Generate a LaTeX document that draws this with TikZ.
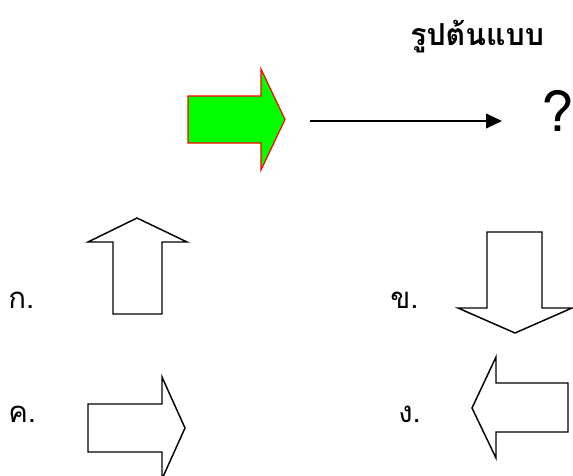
\documentclass[tikz,border=0pt]{standalone}
\usepackage{fontspec}
\newfontfamily\thaifont[Script=Thai]{Loma}
\usetikzlibrary{arrows.meta}

\begin{document}
\begin{tikzpicture}[x=0.75pt, y=-0.75pt,
  blk/.style={draw=black, line width=1.1pt, fill=white, line join=miter},
  model/.style={draw=red, line width=0.9pt, fill=green},
  choice/.style={font=\thaifont\fontsize{22}{26}\selectfont, anchor=base west, inner sep=0pt},
  link/.style={-{Triangle[length=12pt, width=11pt]}, line width=1.5pt}
]
  \useasboundingbox (0,0) rectangle (573,475);

  % model arrow and its result
  \draw[model] (188,96) -- (261,96) -- (261,69) -- (285,119.5) -- (261,170)
    -- (261,143) -- (188,143) -- cycle;
  \node[font=\thaifont\bfseries\fontsize{22.7}{27}\selectfont, anchor=base west,
    inner sep=0pt] (title) at (410,45) {รูปต้นแบบ};
  \node[font=\thaifont\fontsize{42}{48}\selectfont, inner sep=0pt] (ans) at (558,111) {?};
  \coordinate (lstart) at (310,121);
  \coordinate (lend) at (502,121);
  \draw[link] (lstart) -- (lend);

  % choices
  \draw[blk] (113,314) -- (113,242) -- (88,242) -- (137,218) -- (187,242)
    -- (162,242) -- (162,314) -- cycle;
  \draw[blk] (487,232) -- (542,232) -- (542,308) -- (572,308) -- (515,333)
    -- (458,308) -- (487,308) -- cycle;
  \draw[blk] (88,404) -- (162,404) -- (162,377) -- (185,428) -- (162,479)
    -- (162,452) -- (88,452) -- cycle;
  \draw[blk] (568,383) -- (496,383) -- (496,357) -- (472,408) -- (496,458)
    -- (496,432) -- (568,432) -- cycle;

  \node[choice] (ka) at (8,308) {ก.};
  \node[choice] (kho) at (390,308) {ข.};
  \node[choice] (kho2) at (8,422) {ค.};
  \node[choice] (ngo) at (398,422) {ง.};
\end{tikzpicture}
\end{document}
